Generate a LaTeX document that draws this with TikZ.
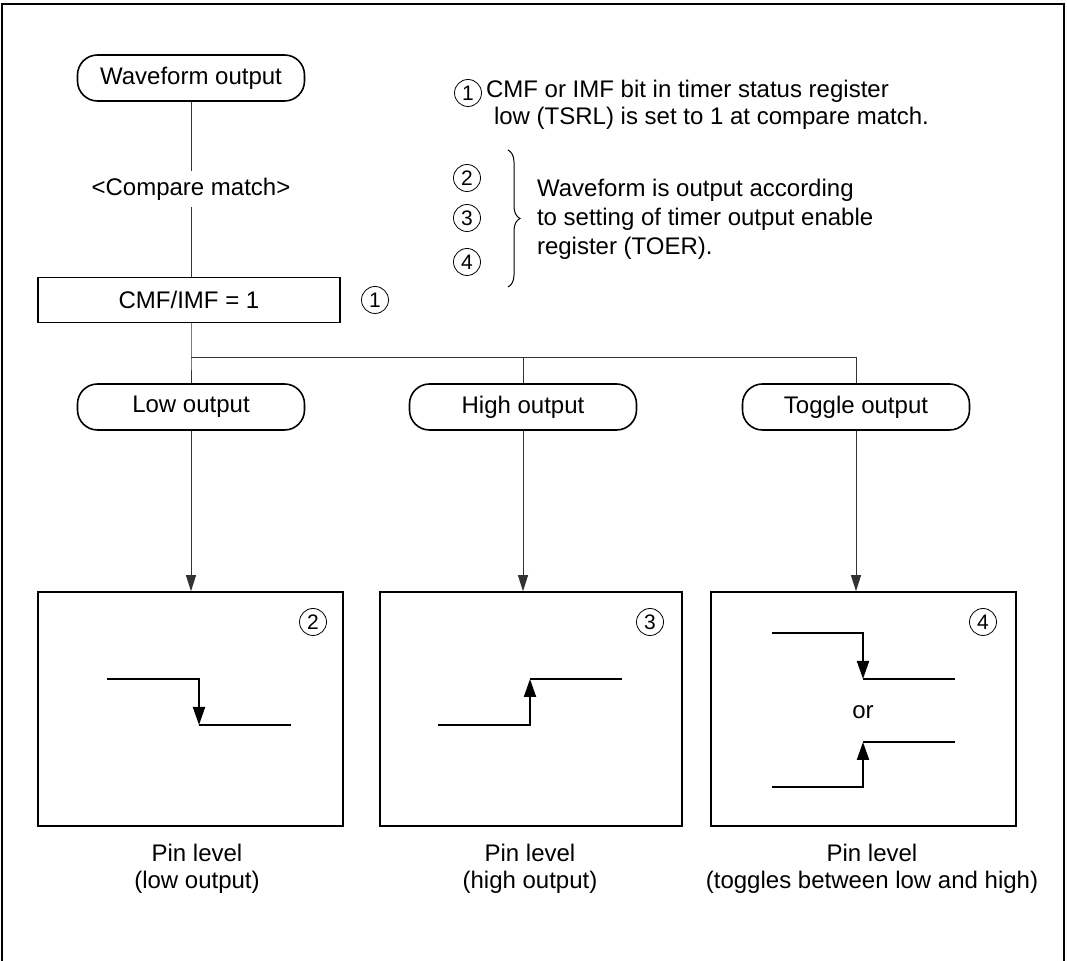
\documentclass[tikz,border=0pt]{standalone}
\usepackage{fontspec}
\setmainfont{Liberation Sans}
\usetikzlibrary{arrows.meta,decorations.pathreplacing}

\begin{document}
\begin{tikzpicture}[x=0.5pt, y=-0.5pt,
	every node/.style={font=\fontsize{12}{13.5}\selectfont},
	>={Triangle[length=8pt, width=5pt]},
	term/.style={draw, line width=0.8pt, rounded corners=10pt, minimum width=113.5pt, minimum height=23pt},
	proc/.style={draw, line width=0.8pt, minimum width=151pt, minimum height=22.5pt},
	panel/.style={draw, line width=0.8pt, minimum width=152.5pt, minimum height=117pt},
	num/.style={circle, draw, line width=0.4pt, inner sep=0pt, minimum size=13.5pt, font=\fontsize{10.5}{10.5}\selectfont},
	conn/.style={black!80, line width=0.5pt},
	wave/.style={line width=1pt, >={Triangle[length=9pt, width=6pt]}}]
	\useasboundingbox (0,0) rectangle (1067,961);
	\draw[line width=0.8pt] (2,970) -- (2,4) -- (1064,4) -- (1064,970);
	\node[term] (wave) at (191,78) {Waveform output};
	\node[proc] (cmf) at (189,300) {CMF/IMF = 1};
	\node[num] (n1) at (375,300) {1};
	\draw[conn] (wave) -- node[fill=white, text=black, inner xsep=1pt] (cmp) {<Compare match>} (wave |- cmf.north);
	\coordinate (fork) at (191,358);
	\node[term] (low) at (191,407) {Low output};
	\node[term] (high) at (523,407) {High output};
	\node[term] (tog) at (856,407) {Toggle output};
	\draw[conn] (cmf.south -| fork) -- (fork) -- (low);
	\draw[conn] (fork) -| (high);
	\draw[conn] (fork) -| (tog);
	\node[panel] (pl) at (190.5,709) {};
	\node[panel, minimum width=151pt] (ph) at (531,709) {};
	\node[panel] (pt) at (863.5,709) {};
	\draw[conn, ->] (low) -- (low |- pl.north);
	\draw[conn, ->] (high) -- (high |- ph.north);
	\draw[conn, ->] (tog) -- (tog |- pt.north);
	\node[num] (n2) at (313,622) {2};
	\node[num] (n3) at (650,622) {3};
	\node[num] (n4) at (983,622) {4};
	\draw[wave, ->] (107,679) -| (199,725);
	\draw[wave] (199,725) -- (291,725);
	\draw[wave, ->] (438,725) -| (530,679);
	\draw[wave] (530,679) -- (622,679);
	\draw[wave, ->] (772,633) -| (863,679);
	\draw[wave] (863,679) -- (955,679);
	\node (orlbl) at (863,712) {or};
	\draw[wave, ->] (772,787) -| (863,742);
	\draw[wave] (863,742) -- (955,742);
	\node[align=center] (capl) at (197,869) {Pin level\\(low output)};
	\node[align=center] (caph) at (530,869) {Pin level\\(high output)};
	\node[align=center] (capt) at (872,869) {Pin level\\(toggles between low and high)};
	\node[num] (m1) at (468,93) {1};
	\node[anchor=west, align=left] (note1) at (479,105) {CMF or IMF bit in timer status register\\\hspace*{4pt}low (TSRL) is set to 1 at compare match.};
	\node[num] (m2) at (467,178) {2};
	\node[num] (m3) at (467,218) {3};
	\node[num] (m4) at (467,262) {4};
	\draw[decorate, decoration={brace, amplitude=6pt}, line width=0.5pt] (508,150) -- (508,287);
	\node[anchor=west, align=left, font=\fontsize{12}{14.5}\selectfont] (note2) at (530,219) {Waveform is output according\\to setting of timer output enable\\register (TOER).};
\end{tikzpicture}
\end{document}
